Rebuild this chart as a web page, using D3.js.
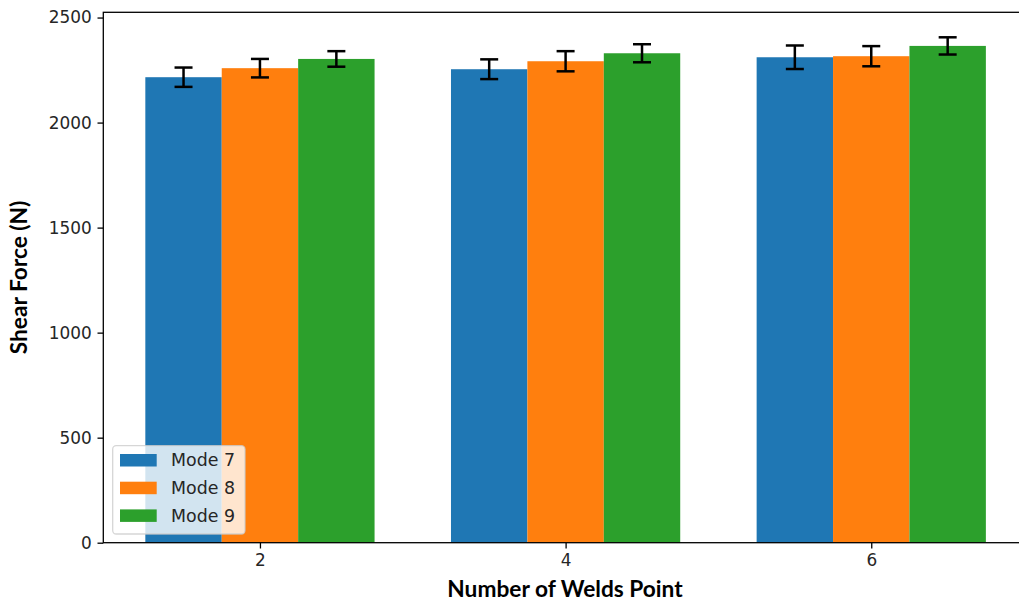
<!DOCTYPE html>
<html>
<head>
<meta charset="utf-8">
<script src="https://cdn.jsdelivr.net/npm/d3@7"></script>
<style>
  html, body { margin: 0; padding: 0; background: #fff; overflow: hidden; }
  svg { display: block; }
</style>
</head>
<body>
<svg id="chart" width="1019" height="608"></svg>
<script>
// Shear force by number of weld points, three welding modes
const welds = [2, 4, 6];
const seriesNames = ["Mode 7", "Mode 8", "Mode 9"];
const mode7 = [2216, 2254, 2311];
const mode8 = [2259, 2292, 2316];
const mode9 = [2303, 2330, 2365];
const err7 = [46, 47, 56];
const err8 = [44, 48, 48];
const err9 = [37, 43, 41];
const yTicks = [0, 500, 1000, 1500, 2000, 2500];
const colors = ["#1f77b4", "#ff7f0e", "#2ca02c"];

const values = [mode7, mode8, mode9];
const errors = [err7, err8, err9];
const barWidth = 0.5;
const offsets = [-0.5, 0, 0.5];

const svg = d3.select("#chart");
const plot = { left: 103.3, right: 1027.9, top: 12.3, bottom: 542.7 };

const x = d3.scaleLinear().domain([0.975, 7.025]).range([plot.left, plot.right]);
const y = d3.scaleLinear().domain([0, 2525]).range([plot.bottom, plot.top]);

const tickFont = "'DejaVu Sans', sans-serif";
const tickSize = 16.9;
const legendSize = 17.4;

// bars
seriesNames.forEach((name, si) => {
  svg.append("g")
    .selectAll("rect")
    .data(welds.map((w, i) => ({ w, v: values[si][i] })))
    .join("rect")
    .attr("x", d => x(d.w + offsets[si] - barWidth / 2))
    .attr("width", d => x(d.w + offsets[si] + barWidth / 2) - x(d.w + offsets[si] - barWidth / 2))
    .attr("y", d => y(d.v))
    .attr("height", d => y(0) - y(d.v))
    .attr("fill", colors[si]);
});

// error bars
seriesNames.forEach((name, si) => {
  const g = svg.append("g").attr("stroke", "#000").attr("stroke-width", 2.5);
  welds.forEach((w, i) => {
    const cx = x(w + offsets[si]);
    const lo = y(values[si][i] - errors[si][i]);
    const hi = y(values[si][i] + errors[si][i]);
    g.append("line").attr("x1", cx).attr("x2", cx).attr("y1", lo).attr("y2", hi);
    g.append("line").attr("x1", cx - 9).attr("x2", cx + 9).attr("y1", lo).attr("y2", lo);
    g.append("line").attr("x1", cx - 9).attr("x2", cx + 9).attr("y1", hi).attr("y2", hi);
  });
});

// axes
const yAxis = svg.append("g")
  .attr("transform", `translate(${plot.left},0)`)
  .call(d3.axisLeft(y).tickValues(yTicks).tickSize(5.8).tickPadding(5.8).tickFormat(d3.format("d")));
const xAxis = svg.append("g")
  .attr("transform", `translate(0,${plot.bottom})`)
  .call(d3.axisBottom(x).tickValues(welds).tickSize(5.8).tickPadding(5.8).tickFormat(d3.format("d")));

[yAxis, xAxis].forEach(a => {
  a.select(".domain").remove();
  a.selectAll(".tick line").attr("stroke", "#000").attr("stroke-width", 1.3);
  a.selectAll(".tick text")
    .attr("fill", "#262626")
    .style("font-family", tickFont)
    .style("font-size", tickSize + "px");
});

// frame
svg.append("rect")
  .attr("x", plot.left).attr("y", plot.top)
  .attr("width", plot.right - plot.left).attr("height", plot.bottom - plot.top)
  .attr("fill", "none").attr("stroke", "#000").attr("stroke-width", 1.3);

// axis titles
const titleFont = "Lato, 'Open Sans', sans-serif";
svg.append("text")
  .attr("x", 565).attr("y", 597)
  .attr("text-anchor", "middle")
  .style("font-family", titleFont).style("font-weight", "bold").style("font-size", "22.7px")
  .attr("fill", "#000")
  .text("Number of Welds Point");
svg.append("text")
  .attr("transform", `translate(26.5,${(plot.top + plot.bottom) / 2}) rotate(-90)`)
  .attr("text-anchor", "middle")
  .style("font-family", titleFont).style("font-weight", "bold").style("font-size", "22.7px")
  .attr("fill", "#000")
  .text("Shear Force (N)");

// legend
const leg = svg.append("g");
leg.append("rect")
  .attr("x", 112.7).attr("y", 445.7).attr("width", 132.3).attr("height", 88.3)
  .attr("rx", 3.5)
  .attr("fill", "#fff").attr("fill-opacity", 0.8)
  .attr("stroke", "#cccccc").attr("stroke-opacity", 0.8).attr("stroke-width", 1.3);
seriesNames.forEach((name, si) => {
  const cy = 460 + si * 27.7;
  leg.append("rect")
    .attr("x", 120).attr("y", cy - 6).attr("width", 36.7).attr("height", 12.5)
    .attr("fill", colors[si]);
  leg.append("text")
    .attr("x", 171).attr("y", cy).attr("dy", "0.36em")
    .style("font-family", tickFont).style("font-size", legendSize + "px")
    .attr("fill", "#262626")
    .text(name);
});
</script>
</body>
</html>
